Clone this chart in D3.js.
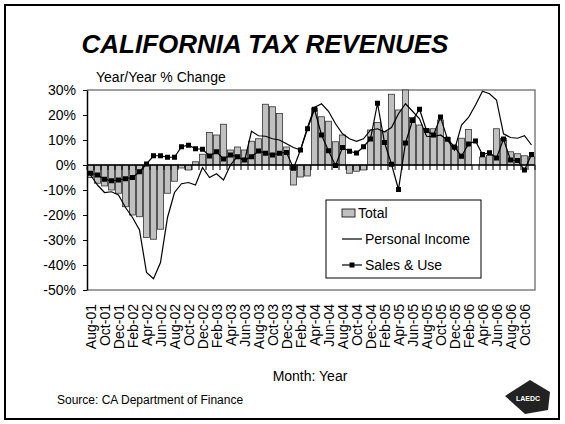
<!DOCTYPE html>
<html><head><meta charset="utf-8">
<script src="https://cdn.jsdelivr.net/npm/d3@7"></script>
<style>body{margin:0;background:#fff}svg{display:block}text{font-family:Arial,"Liberation Sans",sans-serif}</style>
</head><body><svg id="c" width="565" height="424"></svg>
<script>
const months = ["Aug-01","Sep-01","Oct-01","Nov-01","Dec-01","Jan-02","Feb-02","Mar-02","Apr-02","May-02","Jun-02","Jul-02","Aug-02","Sep-02","Oct-02","Nov-02","Dec-02","Jan-03","Feb-03","Mar-03","Apr-03","May-03","Jun-03","Jul-03","Aug-03","Sep-03","Oct-03","Nov-03","Dec-03","Jan-04","Feb-04","Mar-04","Apr-04","May-04","Jun-04","Jul-04","Aug-04","Sep-04","Oct-04","Nov-04","Dec-04","Jan-05","Feb-05","Mar-05","Apr-05","May-05","Jun-05","Jul-05","Aug-05","Sep-05","Oct-05","Nov-05","Dec-05","Jan-06","Feb-06","Mar-06","Apr-06","May-06","Jun-06","Jul-06","Aug-06","Sep-06","Oct-06","Nov-06"];
const total = [-5,-7.3,-8.4,-10,-11.3,-16.7,-20,-20.7,-29,-29.7,-25.7,-11.3,-6.5,-1.2,-2,1.3,4.3,13,12,16.3,6,7.2,6,9.5,10.5,24.3,23.3,20.6,7.2,-8,-4.8,-4.4,22.8,19.3,17.5,9.3,12,-3.3,-2.5,-2,14,17,13.3,28.3,22,30,19,16,14.5,14.5,18,11,7.5,10.7,14.2,0,3.2,3.8,14.5,10.7,5.3,4.5,3.7,3.3];
const personalIncome = [-4,-8,-11,-10.7,-12,-17,-21,-26,-43,-45.5,-39,-21,-11,-7.5,-7,-8,-1,-5,-3.5,-6,0,3.5,1.5,13.5,11.7,11.5,10.5,10,8.5,7,6,15,23,24.5,21.5,16.5,12.5,10.5,9.5,10.5,14,14.5,13.3,15,20.5,24.5,21.5,18.5,11.5,11.3,12,10,6,16,19,24,29.5,28.5,26,12.5,11,10.7,11.7,8];
const salesUse = [-3.3,-4,-5.7,-6.3,-6,-5.5,-5,-2.7,0.4,3.7,3.7,3.1,3.1,7.3,7.9,6.5,6.3,3.6,5.3,2.4,4,3.3,2,3.3,5.6,4.7,4,4.7,5,-1.3,6,14.5,22.3,12,5.7,-0.2,7,5.5,4.8,7.3,10.4,24.7,9,0.3,-9.8,8.8,17.8,22.3,13.8,12,19.2,10.3,7.2,3.5,8.4,9.6,4.2,4.9,2.8,10.4,2,1.8,-2,4.2];
const yTicks = [30,20,10,0,-10,-20,-30,-40,-50];
const legendItems = ["Total","Personal Income","Sales & Use"];

const svg = d3.select("#c");
svg.append("rect").attr("x",5).attr("y",5).attr("width",554).attr("height",414)
  .attr("fill","#fff").attr("stroke","#000").attr("stroke-width",2);

svg.append("text").attr("x",265).attr("y",53).attr("text-anchor","middle")
  .attr("font-size",26).attr("font-weight","bold").attr("font-style","italic")
  .text("CALIFORNIA TAX REVENUES");
svg.append("text").attr("x",96).attr("y",82).attr("font-size",14).text("Year/Year % Change");

const x = d3.scaleBand().domain(months).range([87,535]).paddingInner(0.15).paddingOuter(0.075);
const xb = d3.scaleBand().domain(months).range([87,535]);
const y = d3.scaleLinear().domain([-50,30]).range([290,90]);

svg.append("path").attr("d",`M87,${y(30)}H535V${y(-50)}H87`).attr("fill","none").attr("stroke","#808080").attr("stroke-width",1.5);

svg.append("g").selectAll("rect").data(total).join("rect")
  .attr("x",(d,i)=>x(months[i])).attr("width",x.bandwidth())
  .attr("y",d=>y(Math.max(0,d))).attr("height",d=>Math.abs(y(d)-y(0)))
  .attr("fill","#c0c0c0").attr("stroke","#333").attr("stroke-width",0.8)
  .style("display",d=>d===0?"none":null);

const xAxisG = svg.append("g").attr("transform",`translate(0,${y(0)})`);
xAxisG.append("line").attr("x1",87).attr("x2",535).attr("stroke","#000").attr("stroke-width",1.5);
xAxisG.selectAll("line.tk").data(months.concat(["end"])).join("line").attr("class","tk")
  .attr("x1",(d,i)=>87+i*xb.step()).attr("x2",(d,i)=>87+i*xb.step())
  .attr("y1",0).attr("y2",5).attr("stroke","#000").attr("stroke-width",1);

svg.append("g").selectAll("text").data(months.filter((d,i)=>i%2===0)).join("text")
  .attr("transform",d=>`translate(${xb(d)+xb.bandwidth()/2+5},304) rotate(-90)`)
  .attr("text-anchor","end").attr("font-size",14).text(d=>d);

const yAxis = d3.axisLeft(y).tickValues(yTicks).tickFormat(d=>d+"%").tickSize(4).tickSizeOuter(0);
const yg = svg.append("g").attr("transform","translate(87,0)").call(yAxis);
yg.select(".domain").attr("stroke","#000").attr("stroke-width",1.5);
yg.selectAll("text").attr("font-size",14).attr("fill","#000").attr("font-family","Arial, Liberation Sans, sans-serif").attr("dy","0.35em").attr("x",-11);

const cx = i => xb(months[i]) + xb.bandwidth()/2;
svg.append("path").datum(personalIncome)
  .attr("d",d3.line().x((d,i)=>cx(i)).y(d=>y(d)))
  .attr("fill","none").attr("stroke","#000").attr("stroke-width",1.2);
svg.append("path").datum(salesUse)
  .attr("d",d3.line().x((d,i)=>cx(i)).y(d=>y(d)))
  .attr("fill","none").attr("stroke","#000").attr("stroke-width",1.2);
svg.append("g").selectAll("rect").data(salesUse).join("rect")
  .attr("x",(d,i)=>cx(i)-2.5).attr("y",d=>y(d)-2.5).attr("width",5).attr("height",5).attr("fill","#000");

const lg = svg.append("g");
lg.append("rect").attr("x",326).attr("y",200).attr("width",155).attr("height",78)
  .attr("fill","#fff").attr("stroke","#000").attr("stroke-width",1);
const rowY = [213,239,265];
lg.append("rect").attr("x",342).attr("y",rowY[0]-4).attr("width",13).attr("height",8)
  .attr("fill","#c0c0c0").attr("stroke","#000").attr("stroke-width",0.8);
lg.append("line").attr("x1",342).attr("x2",362).attr("y1",rowY[1]).attr("y2",rowY[1]).attr("stroke","#000").attr("stroke-width",1.2);
lg.append("line").attr("x1",342).attr("x2",362).attr("y1",rowY[2]).attr("y2",rowY[2]).attr("stroke","#000").attr("stroke-width",1.2);
lg.append("rect").attr("x",349.5).attr("y",rowY[2]-2.5).attr("width",5).attr("height",5).attr("fill","#000");
lg.selectAll("text").data(legendItems).join("text")
  .attr("x",(d,i)=>i===0?358:365).attr("y",(d,i)=>rowY[i]+5).attr("font-size",14).text(d=>d);

svg.append("text").attr("x",310).attr("y",381).attr("text-anchor","middle").attr("font-size",14).text("Month:  Year");
svg.append("text").attr("x",57).attr("y",404).attr("font-size",12).text("Source:  CA Department of Finance");

const logo = svg.append("g");
logo.append("path").attr("d","M505,396 L530,380 L550,392 L548,410 L525,414 Z").attr("fill","#222");
logo.append("text").attr("x",528).attr("y",401).attr("text-anchor","middle").attr("font-size",7).attr("font-weight","bold").attr("fill","#fff").text("LAEDC");
</script></body></html>
